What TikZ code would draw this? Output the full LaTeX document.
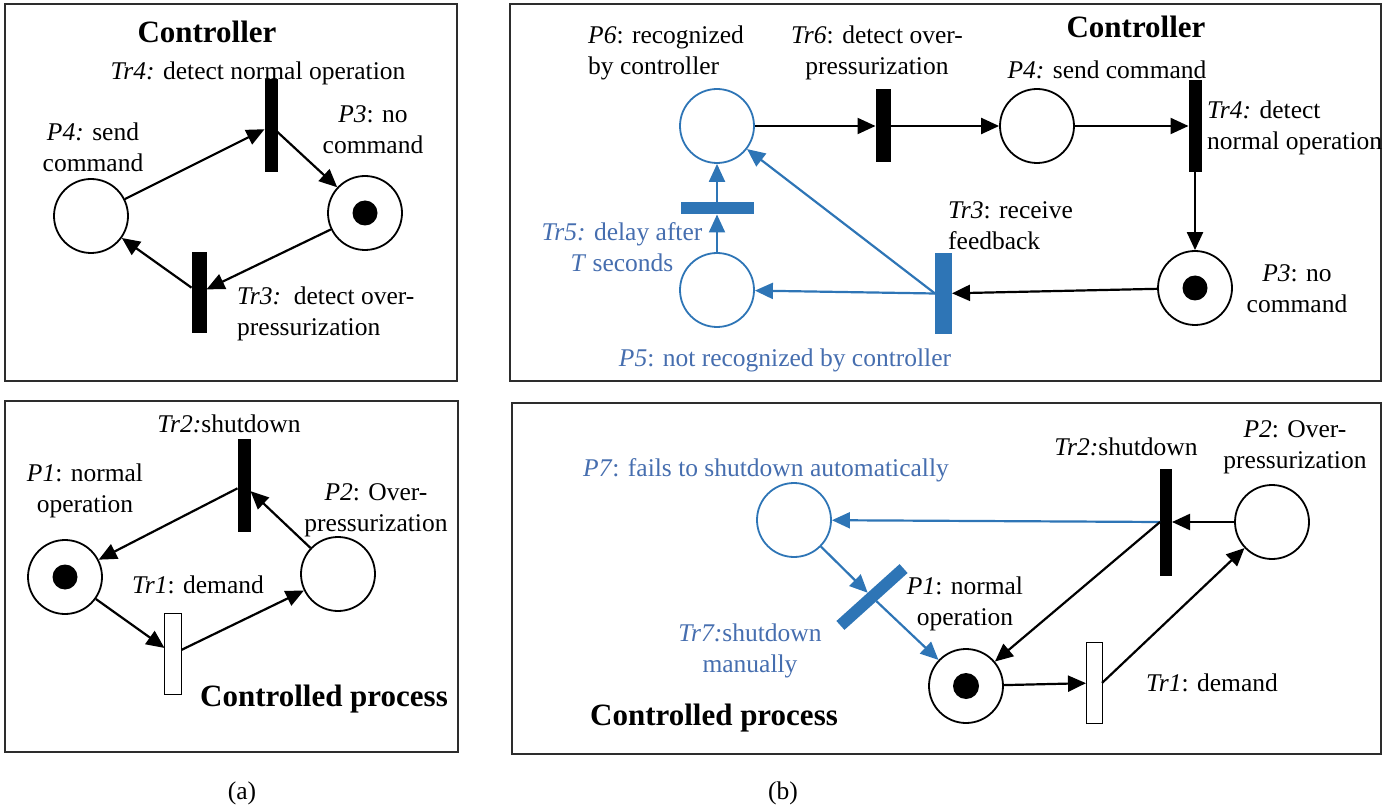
\documentclass[tikz,border=0pt]{standalone}
\usepackage{fontspec}
\setmainfont{Liberation Serif}
\usetikzlibrary{arrows.meta}
\definecolor{netblue}{RGB}{46,117,182}
\definecolor{labelblue}{RGB}{70,110,175}
\definecolor{framegray}{RGB}{45,45,45}

\tikzset{
  panel/.style={draw=framegray, line width=1.9pt},
  place/.style={circle, draw=black, line width=1.8pt, minimum size=74pt, inner sep=0pt, fill=white},
  bplace/.style={place, draw=netblue},
  token/.style={circle, fill=black, minimum size=25pt, inner sep=0pt},
  bar/.style={rectangle, fill=black, minimum width=13pt, minimum height=93pt, inner sep=0pt, outer sep=0pt},
  bbar/.style={bar, fill=netblue},
  wbar/.style={rectangle, draw=black, line width=0.9pt, fill=white, minimum width=17pt, minimum height=81pt, inner sep=0pt, outer sep=0pt},
  arc/.style={-{Triangle[length=18pt,width=16pt]}, line width=2.2pt, black},
  barc/.style={arc, netblue},
  lbl/.style={font=\fontsize{25.5}{31}\selectfont, inner sep=0pt, align=center},
  blbl/.style={lbl, text=labelblue},
  title/.style={font=\fontsize{31}{36}\selectfont\bfseries, inner sep=0pt}
}

\begin{document}
\begin{tikzpicture}[x=1pt, y=-1pt]
\useasboundingbox (0,0) rectangle (1398,810);

% ---------- frames ----------
\draw[panel] (5,4) rectangle (457,381);
\draw[panel] (5,401) rectangle (458,752);
\draw[panel] (510,4) rectangle (1381,381);
\draw[panel] (512,403) rectangle (1381,754);

% ---------- (a) controller ----------
\node[title] (a-ctl) at (207,32) {Controller};
\node[place] (a4) at (91,216) {};
\node[place] (a3) at (365,213) {};
\node[token] (a3tok) at (a3) {};
\node[bar] (at4) at (271,126) {};
\node[bar, minimum height=81pt, minimum width=15pt] (at3) at (199,293) {};
\draw[arc] (a4) -- (at4);
\draw[arc] (at4) -- (a3);
\draw[arc] (a3) -- (at3);
\draw[arc] (at3) -- (a4);
\node[lbl] (l-at4) at (258,73) {\textit{Tr4:} detect normal operation};
\node[lbl] (l-a4) at (93,147) {\textit{P4:} send\\command};
\node[lbl] (l-a3) at (373,130) {\textit{P3}: no\\command};
\node[lbl, align=left, anchor=west] (l-at3) at (237,314) {\textit{Tr3:}\ \ detect over-\\pressurization};

% ---------- (a) controlled process ----------
\node[place] (a1) at (65,577) {};
\node[token] (a1tok) at (a1) {};
\node[place] (a2) at (338,574) {};
\node[bar] (at2) at (244,485) {};
\node[wbar] (at1) at (173,654) {};
\draw[arc] (at2) -- (a1);
\draw[arc] (a2) -- (at2);
\draw[arc] (a1) -- (at1);
\draw[arc] (at1) -- (a2);
\node[lbl] (l-at2) at (229,424) {\textit{Tr2:}shutdown};
\node[lbl] (l-a1) at (85,491) {\textit{P1}: normal\\operation};
\node[lbl] (l-a2) at (376,510) {\textit{P2}: Over-\\pressurization};
\node[lbl] (l-at1) at (198,585) {\textit{Tr1}: demand};
\node[title] (a-proc) at (324,699) {Controlled process};
\node[lbl] (cap-a) at (242,793) {(a)};

% ---------- (b) controller ----------
\node[title] (b-ctl) at (1136,27) {Controller};
\node[bplace] (b6) at (717,126) {};
\node[bar, minimum width=15pt, minimum height=73pt] (bt6) at (883,126) {};
\node[place] (b4) at (1037,126) {};
\node[bar, minimum height=92pt] (bt4) at (1195,126) {};
\node[place] (b3) at (1195,288) {};
\node[token] (b3tok) at (b3) {};
\node[bbar, minimum width=17pt, minimum height=81pt] (bt3) at (943.5,293.5) {};
\node[bplace] (b5) at (717,290) {};
\node[bbar, minimum width=73pt, minimum height=12pt] (bt5) at (717,208.5) {};
\draw[arc] (b6) -- (bt6);
\draw[arc] (bt6) -- (b4);
\draw[arc] (b4) -- (bt4);
\draw[arc] (bt4) -- (b3);
\draw[arc] (b3) -- (bt3);
\draw[barc] (bt3.west) -- (b5);
\draw[barc] (bt3.west) -- (b6);
\draw[barc] (b5) -- (bt5);
\draw[barc] (bt5) -- (b6);
\node[lbl, align=left, anchor=west] (l-b6) at (588,53) {\textit{P6}: recognized\\by controller};
\node[lbl] (l-bt6) at (877,53) {\textit{Tr6}: detect over-\\pressurization};
\node[lbl] (l-b4) at (1107,70) {\textit{P4:} send command};
\node[lbl, align=left, anchor=west] (l-bt4) at (1207,128) {\textit{Tr4:} detect\\normal operation};
\node[lbl] (l-b3) at (1297,289) {\textit{P3}: no\\command};
\node[lbl, align=left, anchor=west] (l-bt3) at (948,226) {\textit{Tr3}: receive\\feedback};
\node[blbl] (l-bt5) at (622,247) {\textit{Tr5:} delay after\\\textit{T} seconds};
\node[blbl] (l-b5) at (785,360) {\textit{P5}: not recognized by controller};

% ---------- (b) controlled process ----------
\node[bplace] (b7) at (794,520) {};
\node[bar, minimum width=12pt, minimum height=107pt] (bt2) at (1166,522) {};
\node[place] (b2) at (1272,522) {};
\node[bbar, rotate=42, minimum width=85pt, minimum height=12pt] (bt7) at (872,597) {};
\node[place] (b1) at (966,686) {};
\node[token, minimum size=26pt] (b1tok) at (b1) {};
\node[wbar, minimum width=16pt] (bt1) at (1094,683) {};
\draw[arc] (b2) -- (bt2);
\draw[barc] (bt2.west) -- (b7);
\draw[arc] (bt2.west) -- (b1);
\draw[arc] (b1) -- (bt1);
\draw[arc] (bt1.east) -- (b2);
\draw[barc] (b7) -- (bt7);
\draw[barc] (bt7) -- (b1);
\node[blbl] (l-b7) at (766,470) {\textit{P7}: fails to shutdown automatically};
\node[lbl] (l-bt2) at (1126,447) {\textit{Tr2:}shutdown};
\node[lbl] (l-b2) at (1295,447) {\textit{P2}: Over-\\pressurization};
\node[lbl] (l-b1) at (965,604) {\textit{P1}: normal\\operation};
\node[lbl] (l-bt1) at (1212,683) {\textit{Tr1}: demand};
\node[blbl] (l-bt7) at (750,651) {\textit{Tr7:}shutdown\\manually};
\node[title] (b-proc) at (714,718) {Controlled process};
\node[lbl] (cap-b) at (783,793) {(b)};
\end{tikzpicture}
\end{document}
